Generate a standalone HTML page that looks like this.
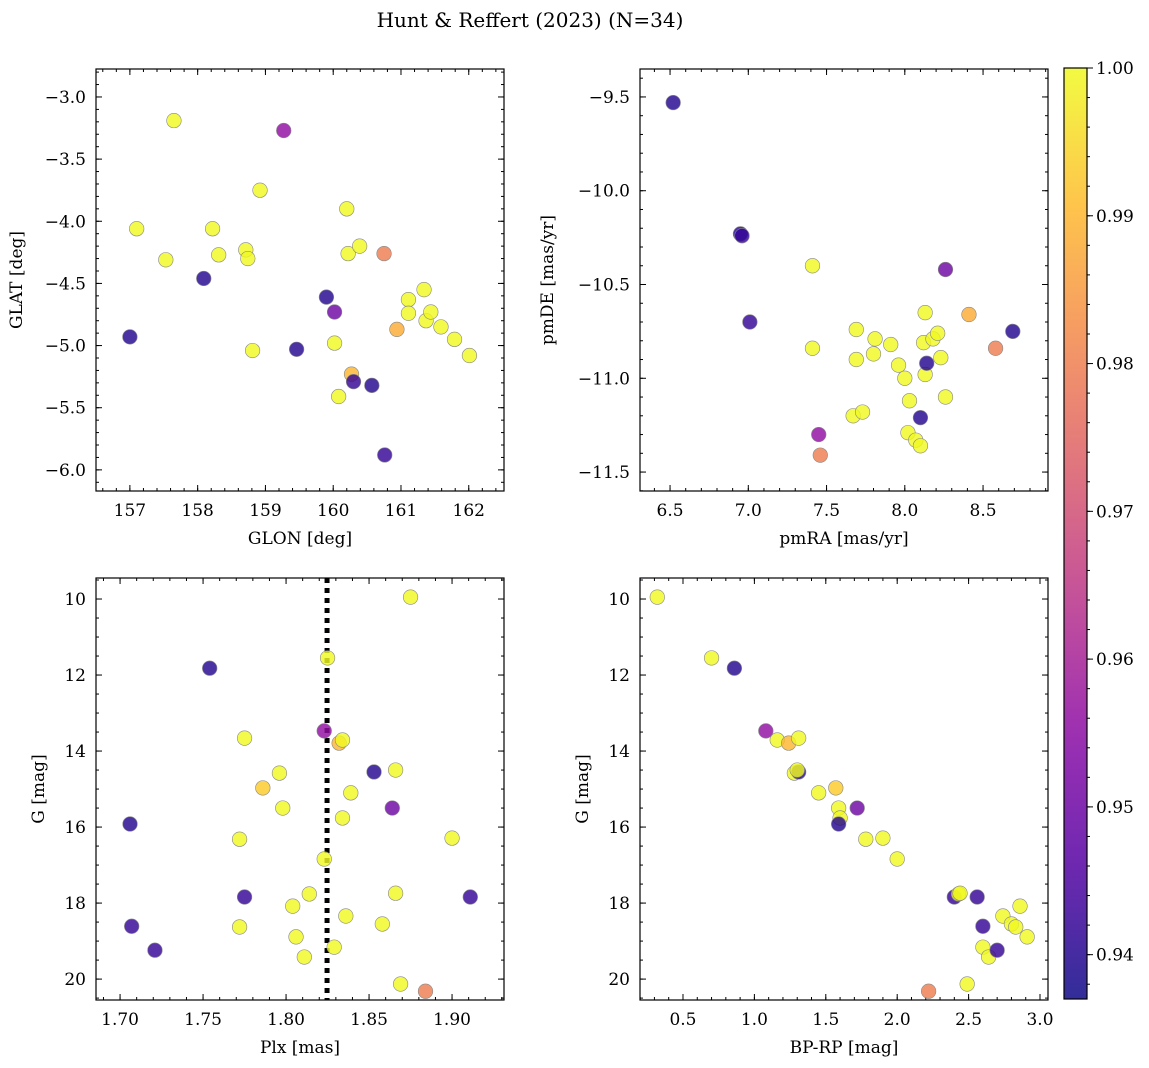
<!DOCTYPE html>
<html><head><meta charset="utf-8">
<style>
html,body{margin:0;padding:0;background:#fff;}
svg{display:block;font-family:"DejaVu Serif","Liberation Serif",serif;}
</style></head>
<body>
<svg id="chart" width="1149" height="1068" viewBox="0 0 1149 1068" xmlns="http://www.w3.org/2000/svg">
<text x="530" y="27" font-size="20" text-anchor="middle">Hunt &amp; Reffert (2023) (N=34)</text>
</svg>
<script>
// ---- Data ----
const p1_glon=[157.0,157.1,157.65,157.53,158.09,158.22,158.31,158.71,158.74,158.92,158.81,159.27,159.46,159.9,160.02,160.02,160.2,160.22,160.39,160.27,160.3,160.08,160.57,160.75,160.76,160.94,161.11,161.11,161.34,161.37,161.44,161.59,161.79,162.01];
const p1_glat=[-4.93,-4.06,-3.19,-4.31,-4.46,-4.06,-4.27,-4.23,-4.30,-3.75,-5.04,-3.27,-5.03,-4.61,-4.73,-4.98,-3.90,-4.26,-4.20,-5.23,-5.29,-5.41,-5.32,-4.26,-5.88,-4.87,-4.63,-4.74,-4.55,-4.80,-4.73,-4.85,-4.95,-5.08];
const p1_prob=[0.940,1,1,1,0.940,1,1,1,1,1,1,0.956,0.940,0.940,0.950,1,1,1,1,0.990,0.942,1,0.940,0.980,0.942,0.988,1,1,1,1,1,1,1,1];

const p2_pmra=[6.52,6.95,6.96,7.01,7.41,7.41,7.45,7.46,7.67,7.69,7.69,7.73,7.81,7.80,7.91,7.96,8.0,8.03,8.02,8.07,8.10,8.10,8.13,8.12,8.13,8.14,8.18,8.21,8.23,8.26,8.26,8.41,8.58,8.69];
const p2_pmde=[-9.53,-10.23,-10.24,-10.70,-10.40,-10.84,-11.30,-11.41,-11.20,-10.74,-10.90,-11.18,-10.79,-10.87,-10.82,-10.93,-11.00,-11.12,-11.29,-11.33,-11.36,-11.21,-10.65,-10.81,-10.98,-10.92,-10.79,-10.76,-10.89,-11.10,-10.42,-10.66,-10.84,-10.75];
const p2_prob=[0.940,0.940,0.942,0.942,1,1,0.956,0.980,1,1,1,1,1,1,1,1,1,1,1,1,1,0.940,1,1,1,0.940,1,1,1,1,0.950,0.988,0.980,0.940];

const p3_plx=[1.706,1.707,1.721,1.754,1.775,1.772,1.772,1.775,1.786,1.796,1.798,1.804,1.806,1.811,1.814,1.823,1.825,1.823,1.832,1.834,1.834,1.829,1.836,1.839,1.853,1.858,1.864,1.866,1.866,1.869,1.875,1.884,1.900,1.911];
const p3_g=[15.92,18.61,19.24,11.82,13.66,16.32,18.63,17.84,14.97,14.58,15.50,18.08,18.89,19.42,17.76,16.84,11.55,13.47,13.79,13.71,15.76,19.16,18.34,15.10,14.55,18.55,15.50,14.50,17.74,20.13,9.95,20.32,16.29,17.84];
const p3_prob=[0.940,0.942,0.942,0.940,1,1,1,0.942,0.993,1,1,1,1,1,1,1,1,0.956,0.990,1,1,1,1,1,0.940,1,0.950,1,1,1,1,0.980,1,0.942];
const p3_vline=[1.8247];

const p4_bprp=[0.32,0.70,0.86,1.08,1.16,1.24,1.31,1.28,1.31,1.30,1.45,1.57,1.59,1.60,1.59,1.72,1.78,1.90,2.00,2.22,2.40,2.43,2.44,2.49,2.56,2.60,2.60,2.64,2.70,2.74,2.80,2.83,2.86,2.91];
const p4_g=[9.95,11.55,11.82,13.47,13.71,13.79,13.66,14.58,14.55,14.50,15.10,14.97,15.50,15.76,15.92,15.50,16.32,16.29,16.84,20.32,17.84,17.76,17.74,20.13,17.84,18.61,19.16,19.42,19.24,18.34,18.55,18.63,18.08,18.89];
const p4_prob=[1,1,0.940,0.956,1,0.990,1,1,0.940,1,1,0.993,1,1,0.940,0.950,1,1,1,0.980,0.942,1,1,1,0.942,0.942,1,1,0.942,1,1,1,1,1];

const cbar_ticks=[0.94,0.95,0.96,0.97,0.98,0.99,1.00];
const VMIN=0.937, VMAX=1.0;

// ---- helpers ----
const svg=document.getElementById('chart');
const NS='http://www.w3.org/2000/svg';
function mk(tag,attrs,parent){const e=document.createElementNS(NS,tag);for(const k in attrs)e.setAttribute(k,attrs[k]);(parent||svg).appendChild(e);return e;}
const plasma=[[13,8,135],[84,2,163],[139,10,165],[185,50,137],[219,92,104],[244,136,73],[254,188,43],[240,249,33]];
function cmap(v){let t=(v-VMIN)/(VMAX-VMIN);t=Math.max(0,Math.min(1,t));const s=t*(plasma.length-1);const i=Math.min(plasma.length-2,Math.floor(s));const f=s-i;const a=plasma[i],b=plasma[i+1];return `rgb(${Math.round(a[0]+(b[0]-a[0])*f)},${Math.round(a[1]+(b[1]-a[1])*f)},${Math.round(a[2]+(b[2]-a[2])*f)})`;}
function fmt(v,d){const s=v.toFixed(d);return s.replace('-','\u2212');}

function panel(cfg){
  const g=mk('g',{});
  
  
  const {x0,x1,y0,y1,xmin,xmax,ymin,ymax}=cfg;
  const sx=v=>x0+(v-xmin)/(xmax-xmin)*(x1-x0);
  const sy=v=>y1-(v-ymin)/(ymax-ymin)*(y1-y0);
  const eps=1e-9;
  for(let v=Math.ceil(xmin/cfg.xminor-eps)*cfg.xminor;v<=xmax+eps;v+=cfg.xminor){const X=sx(v);mk('line',{x1:X,x2:X,y1:y1,y2:y1-3,stroke:'#000','stroke-width':1},g);mk('line',{x1:X,x2:X,y1:y0,y2:y0+3,stroke:'#000','stroke-width':1},g);}
  const ylo=Math.min(ymin,ymax),yhi=Math.max(ymin,ymax);
  for(let v=Math.ceil(ylo/cfg.yminor-eps)*cfg.yminor;v<=yhi+eps;v+=cfg.yminor){const Y=sy(v);mk('line',{x1:x0,x2:x0+3,y1:Y,y2:Y,stroke:'#000','stroke-width':1},g);mk('line',{x1:x1,x2:x1-3,y1:Y,y2:Y,stroke:'#000','stroke-width':1},g);}
  cfg.xticks.forEach(v=>{const X=sx(v);mk('line',{x1:X,x2:X,y1:y1,y2:y1-6,stroke:'#000','stroke-width':1},g);mk('line',{x1:X,x2:X,y1:y0,y2:y0+6,stroke:'#000','stroke-width':1},g);
    const t=mk('text',{x:X,y:y1+25,'font-size':17,'text-anchor':'middle'},g);t.textContent=fmt(v,cfg.xdec);
    
    });
  cfg.yticks.forEach(v=>{const Y=sy(v);mk('line',{x1:x0,x2:x0+6,y1:Y,y2:Y,stroke:'#000','stroke-width':1},g);mk('line',{x1:x1,x2:x1-6,y1:Y,y2:Y,stroke:'#000','stroke-width':1},g);
    const t=mk('text',{x:x0-10,y:Y+6,'font-size':17,'text-anchor':'end'},g);t.textContent=fmt(v,cfg.ydec);
    
    });
  const xl=mk('text',{x:(x0+x1)/2,y:y1+53,'font-size':17,'text-anchor':'middle'},g);xl.textContent=cfg.xlabel;
  
  
  const yl=mk('text',{x:0,y:0,'font-size':17,'text-anchor':'middle',transform:`translate(${cfg.ylx},${(y0+y1)/2}) rotate(-90)`},g);yl.textContent=cfg.ylabel;
  
  
  if(cfg.vline){cfg.vline.forEach(v=>{const l=mk('line',{x1:sx(v),x2:sx(v),y1:y0,y2:y1,stroke:'#000','stroke-width':5,'stroke-dasharray':'5,5'},g);
    
    });}
  cfg.xs.forEach((v,i)=>{const c=mk('circle',{cx:sx(v),cy:sy(cfg.ys[i]),r:7.3,fill:cmap(cfg.c[i]),'fill-opacity':0.82,stroke:'#888','stroke-width':0.6},g);
    
    });
  mk('rect',{x:x0,y:y0,width:x1-x0,height:y1-y0,fill:'none',stroke:'#000','stroke-width':1.2},g);
}
function range(a,b,s){const r=[];for(let v=a;v<=b+1e-9;v+=s)r.push(+v.toFixed(6));return r;}

panel({name:'glon-glat-panel',x0:96,x1:504,y0:69,y1:491,xmin:156.5,xmax:162.52,ymin:-6.17,ymax:-2.775,xticks:range(157,162,1),yticks:range(-6,-3,0.5),xminor:0.2,yminor:0.1,xdec:0,ydec:1,xlabel:'GLON [deg]',ylabel:'GLAT [deg]',ylx:22,xs:p1_glon,ys:p1_glat,c:p1_prob});
panel({name:'pm-panel',x0:640,x1:1048,y0:69,y1:491,xmin:6.308,xmax:8.915,ymin:-11.601,ymax:-9.351,xticks:range(6.5,8.5,0.5),yticks:range(-11.5,-9.5,0.5),xminor:0.1,yminor:0.1,xdec:1,ydec:1,xlabel:'pmRA [mas/yr]',ylabel:'pmDE [mas/yr]',ylx:553,xs:p2_pmra,ys:p2_pmde,c:p2_prob});
panel({name:'plx-g-panel',x0:96,x1:504,y0:578,y1:1000,xmin:1.6855,xmax:1.9313,ymin:20.55,ymax:9.447,xticks:range(1.70,1.90,0.05),yticks:range(10,20,2),xminor:0.01,yminor:0.5,xdec:2,ydec:0,xlabel:'Plx [mas]',ylabel:'G [mag]',ylx:44,xs:p3_plx,ys:p3_g,c:p3_prob,vline:p3_vline});
panel({name:'cmd-panel',x0:640,x1:1048,y0:578,y1:1000,xmin:0.199,xmax:3.056,ymin:20.55,ymax:9.447,xticks:range(0.5,3.0,0.5),yticks:range(10,20,2),xminor:0.1,yminor:0.5,xdec:1,ydec:0,xlabel:'BP-RP [mag]',ylabel:'G [mag]',ylx:588,xs:p4_bprp,ys:p4_g,c:p4_prob});

// ---- colorbar ----
const cb=mk('g',{});


const defs=mk('defs',{});
const lg=mk('linearGradient',{id:'cbg',x1:0,y1:1,x2:0,y2:0},defs);
for(let i=0;i<=20;i++){mk('stop',{offset:i/20,'stop-color':cmap(VMIN+(VMAX-VMIN)*i/20),'stop-opacity':0.85},lg);}
const cx0=1064,cx1=1087,cy0=68,cy1=999;
mk('rect',{x:cx0,y:cy0,width:cx1-cx0,height:cy1-cy0,fill:'url(#cbg)',stroke:'#000','stroke-width':1.2},cb);
const cby=v=>cy1-(v-VMIN)/(VMAX-VMIN)*(cy1-cy0);
for(let v=0.938;v<=1.0001;v+=0.002){const Y=cby(v);mk('line',{x1:cx1,x2:cx1+3,y1:Y,y2:Y,stroke:'#000','stroke-width':1},cb);}
cbar_ticks.forEach(v=>{const Y=cby(v);mk('line',{x1:cx1,x2:cx1+6,y1:Y,y2:Y,stroke:'#000','stroke-width':1},cb);
  const t=mk('text',{x:cx1+9,y:Y+6,'font-size':17},cb);t.textContent=v.toFixed(2);
  
  });
</script>
</body></html>
